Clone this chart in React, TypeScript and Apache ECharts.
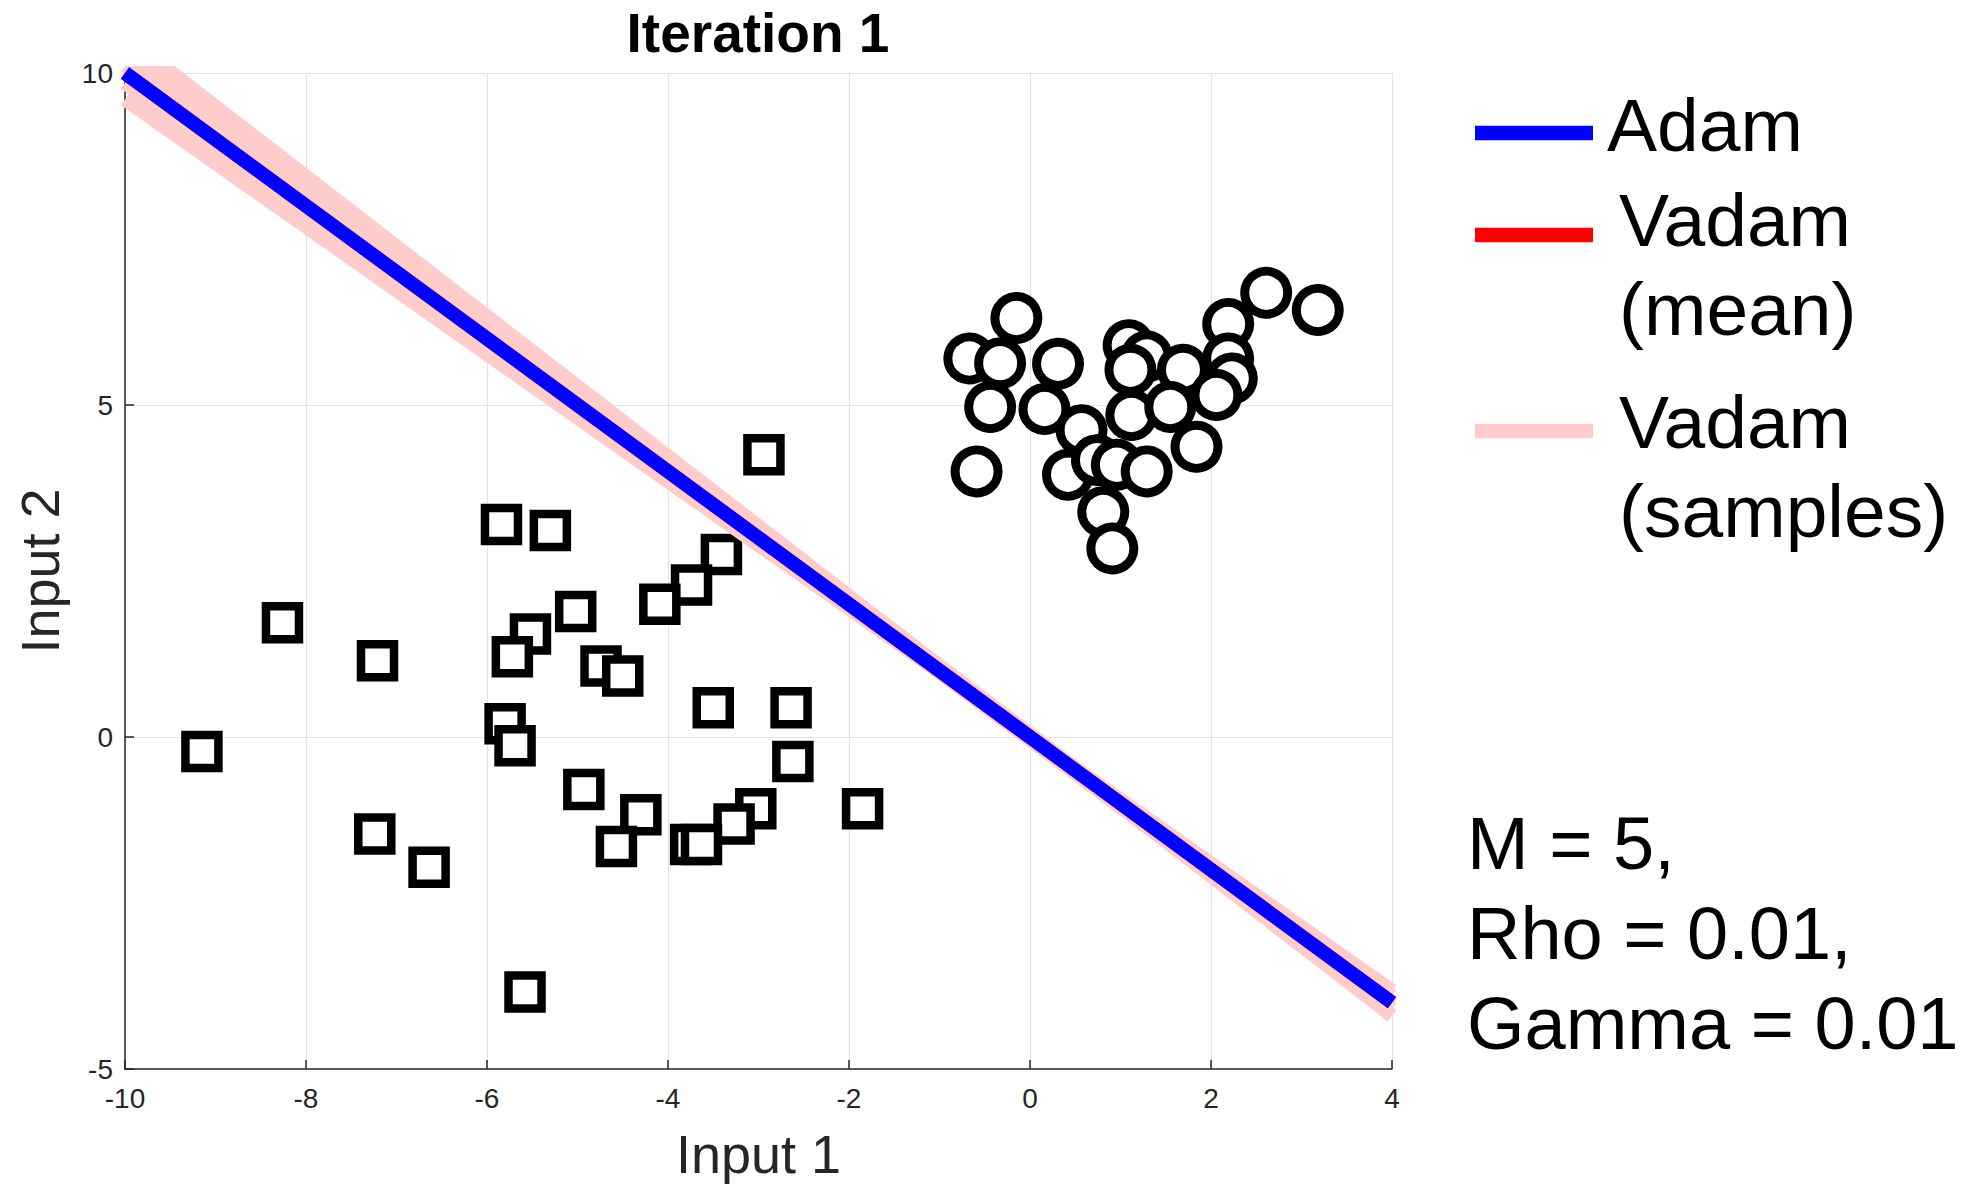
import React, { useEffect, useRef } from "react";
import * as echarts from "echarts";

// ---- Data ----
const squareX = [-2.94, -5.84, -5.30, -3.41, -3.74, -4.09, -5.02, -8.26, -5.52, -5.72, -7.21, -4.74, -4.50, -3.50, -2.64, -5.80, -5.69, -9.15, -2.62, -4.93, -1.85, -3.03, -4.30, -3.27, -7.24, -3.75, -3.63, -4.57, -6.64, -5.58];
const squareY = [4.25, 3.20, 3.11, 2.75, 2.29, 2.00, 1.89, 1.72, 1.55, 1.21, 1.15, 1.07, 0.92, 0.44, 0.44, 0.20, -0.13, -0.22, -0.37, -0.79, -1.08, -1.08, -1.17, -1.31, -1.46, -1.62, -1.62, -1.65, -1.96, -3.84];

const circleX = [-0.15, -0.67, -0.33, 0.31, -0.44, 0.16, 0.57, -0.59, 0.42, 1.09, 1.29, 1.11, 1.69, 1.12, 1.55, 2.19, 2.61, 3.18, 2.19, 2.23, 2.06, 1.84, 0.74, 0.96, 1.29, 0.81, 0.91];
const circleY = [6.31, 5.70, 5.63, 5.62, 4.97, 4.94, 4.62, 4.00, 3.95, 5.90, 5.73, 5.53, 5.53, 4.85, 4.97, 6.22, 6.69, 6.43, 5.70, 5.40, 5.15, 4.37, 4.17, 4.10, 4.00, 3.39, 2.84];

// boundary lines, evaluated at the two ends of the x range
const lineX = [-10, 4];
const adamY = [10, -4];
const vadamMeanY = [10, -4];
const sampleStartY = [10.55, 10.30, 9.60, 9.85, 10.10];
const sampleEndY = [-4.20, -4.05, -3.82, -3.90, -4.10];

const xRange = { min: -10, max: 4, interval: 2 };
const yRange = { min: -5, max: 10, interval: 5 };

const legendLabels = ["Adam", "Vadam\n(mean)", "Vadam\n(samples)"];
const noteLines = ["M = 5,", "Rho = 0.01,", "Gamma = 0.01"];

const FONT = "'Liberation Sans', Arial, Helvetica, sans-serif";
const INK = "#262626";
const BLUE = "#0000ff";
const RED = "#ff0000";
const PINK = "#ffcccc";

export default function App() {
  const ref = useRef<HTMLDivElement>(null);

  useEffect(() => {
    if (!ref.current) return;
    const chart = echarts.init(ref.current, undefined, { renderer: "svg" });

    const pair = (xs: number[], ys: number[]) => xs.map((x, i) => [x, ys[i]]);

    const sampleSeries = sampleStartY.map((s, i) => ({
      name: "Vadam (samples)",
      type: "line",
      data: pair(lineX, [s, sampleEndY[i]]),
      showSymbol: false,
      symbol: "none",
      lineStyle: { color: PINK, width: 14 },
      z: 3,
      clip: true,
    }));

    const option: any = {
      animation: false,
      backgroundColor: "#ffffff",
      title: {
        text: "Iteration 1",
        left: 753,
        top: 0,
        textAlign: "center",
        textStyle: { fontFamily: FONT, fontSize: 55, fontWeight: "bold", color: "#000" },
      },
      grid: { left: 125, top: 73, width: 1267, height: 996, containLabel: false },
      xAxis: {
        type: "value",
        min: xRange.min,
        max: xRange.max,
        interval: xRange.interval,
        name: "Input 1",
        nameLocation: "middle",
        nameGap: 58,
        nameTextStyle: { fontFamily: FONT, fontSize: 54, color: INK },
        axisLine: { show: true, onZero: false, lineStyle: { color: INK, width: 1.5 } },
        axisTick: { show: true, inside: true, length: 9, lineStyle: { color: INK, width: 1.5 } },
        axisLabel: { fontFamily: FONT, fontSize: 28, color: INK, margin: 15 },
        splitLine: { show: true, lineStyle: { color: "#e3e3e3", width: 1.2 } },
      },
      yAxis: {
        type: "value",
        min: yRange.min,
        max: yRange.max,
        interval: yRange.interval,
        name: "Input 2",
        nameLocation: "middle",
        nameGap: 58,
        nameTextStyle: { fontFamily: FONT, fontSize: 54, color: INK },
        axisLine: { show: true, onZero: false, lineStyle: { color: INK, width: 1.5 } },
        axisTick: { show: true, inside: true, length: 9, lineStyle: { color: INK, width: 1.5 } },
        axisLabel: { fontFamily: FONT, fontSize: 28, color: INK, margin: 12 },
        splitLine: { show: true, lineStyle: { color: "#e3e3e3", width: 1.2 } },
      },
      series: [
        {
          name: "Class 1",
          type: "scatter",
          data: pair(squareX, squareY),
          symbol: "rect",
          symbolSize: 33,
          itemStyle: { color: "#ffffff", borderColor: "#000000", borderWidth: 8.5, opacity: 1 },
          z: 2,
        },
        {
          name: "Class 2",
          type: "scatter",
          data: pair(circleX, circleY),
          symbol: "circle",
          symbolSize: 43,
          itemStyle: { color: "#ffffff", borderColor: "#000000", borderWidth: 9, opacity: 1 },
          z: 2,
        },
        ...sampleSeries,
        {
          name: "Vadam (mean)",
          type: "line",
          data: pair(lineX, vadamMeanY),
          showSymbol: false,
          symbol: "none",
          lineStyle: { color: RED, width: 14 },
          z: 4,
        },
        {
          name: "Adam",
          type: "line",
          data: pair(lineX, adamY),
          showSymbol: false,
          symbol: "none",
          lineStyle: { color: BLUE, width: 14 },
          z: 5,
        },
      ],
      graphic: [
        { type: "line", shape: { x1: 1475, y1: 133, x2: 1593, y2: 133 }, style: { stroke: BLUE, lineWidth: 14.6 } },
        { type: "line", shape: { x1: 1475, y1: 235, x2: 1593, y2: 235 }, style: { stroke: RED, lineWidth: 14.6 } },
        { type: "line", shape: { x1: 1475, y1: 431, x2: 1593, y2: 431 }, style: { stroke: PINK, lineWidth: 14.6 } },
        {
          type: "text", x: 1607, y: 125,
          style: { text: legendLabels[0], fontFamily: FONT, fontSize: 75, fill: "#000", align: "left", verticalAlign: "middle" },
        },
        {
          type: "text", x: 1619, y: 264.5,
          style: { text: legendLabels[1], fontFamily: FONT, fontSize: 75, lineHeight: 89, fill: "#000", align: "left", verticalAlign: "middle" },
        },
        {
          type: "text", x: 1619, y: 466.5,
          style: { text: legendLabels[2], fontFamily: FONT, fontSize: 75, lineHeight: 89, fill: "#000", align: "left", verticalAlign: "middle" },
        },
        {
          type: "text", x: 1467, y: 933.5,
          style: { text: noteLines.join("\n"), fontFamily: FONT, fontSize: 74, lineHeight: 90, fill: "#000", align: "left", verticalAlign: "middle" },
        },
      ],
    };

    chart.setOption(option);
    return () => chart.dispose();
  }, []);

  return (
    <div
      ref={ref}
      style={{ position: "fixed", left: 0, top: 0, width: 1982, height: 1186, background: "#fff" }}
    />
  );
}
